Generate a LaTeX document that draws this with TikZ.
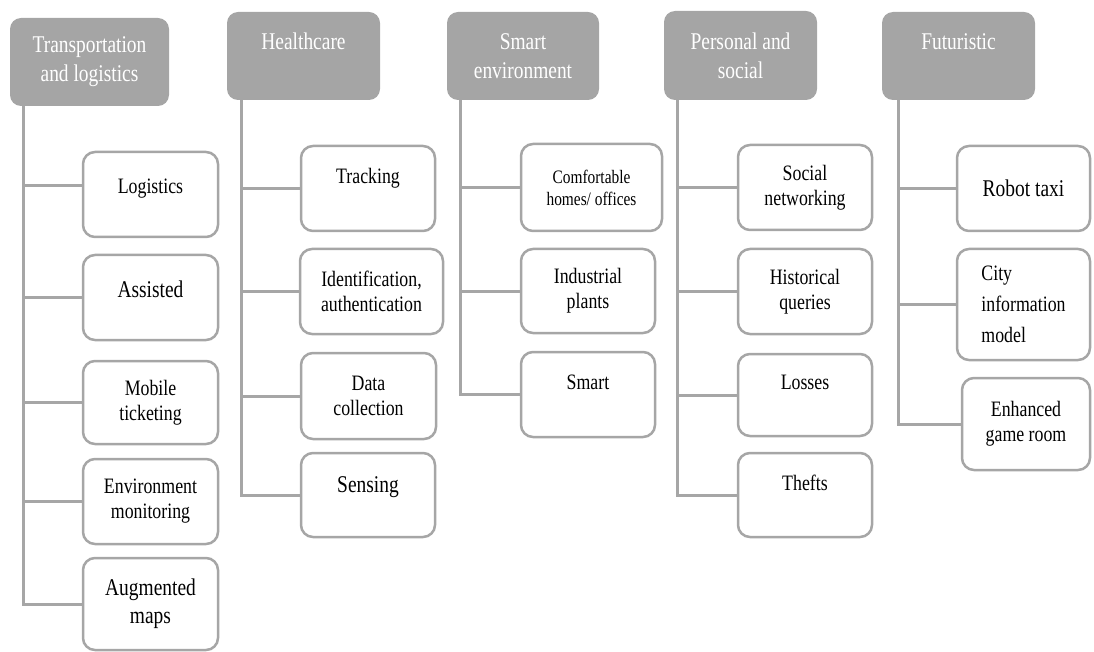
\documentclass[tikz,border=0pt]{standalone}
\usepackage{fontspec}
\setmainfont{Liberation Serif}[FakeStretch=0.81]
\definecolor{hdrfill}{HTML}{A5A5A5}
\definecolor{edgegray}{HTML}{A6A6A6}
\begin{document}
\begin{tikzpicture}[x=1pt,y=-1pt,
  % place a node by its left, top, right and bottom edges
  cell/.style n args={4}{at={({(#1+#3)/2},{(#2+#4)/2})},
    minimum width={(#3-#1)*1pt}, minimum height={(#4-#2)*1pt}},
  hdr/.style={fill=hdrfill, rounded corners=11pt, text=white, align=center,
    inner sep=0pt, font=\fontsize{24}{29}\selectfont},
  item/.style={draw=edgegray, line width=2.5pt, fill=white, rounded corners=12pt,
    align=center, inner sep=0pt, font=\fontsize{22}{25}\selectfont},
  big/.style={font=\fontsize{24}{28}\selectfont},
  small/.style={font=\fontsize{19}{22}\selectfont},
  conn/.style={draw=edgegray, line width=3pt},
]
\useasboundingbox (0,0) rectangle (1094,652);

% category headers
\node[hdr, cell={10}{18}{169}{106}]  (h1) {Transportation\\and logistics};
\node[hdr, cell={227}{12}{380}{100}] (h2) {Healthcare\\\mbox{}};
\node[hdr, cell={447}{12}{599}{100}] (h3) {Smart\\environment};
\node[hdr, cell={664}{11}{817}{100}] (h4) {Personal and\\social};
\node[hdr, cell={882}{12}{1035}{100}] (h5) {Futuristic\\\mbox{}};

% trunk tops below each header
\coordinate (r1) at ([xshift=14pt]h1.south west);
\coordinate (r2) at ([xshift=15pt]h2.south west);
\coordinate (r3) at ([xshift=14pt]h3.south west);
\coordinate (r4) at ([xshift=14pt]h4.south west);
\coordinate (r5) at ([xshift=17pt]h5.south west);

% transportation and logistics
\node[item, cell={83}{152}{218}{237}] (a1) {Logistics\\[-9pt]\mbox{}};
\node[item, big, cell={83}{255}{218}{340}] (a2) {Assisted\\[-12pt]\mbox{}};
\node[item, cell={83}{361}{218}{444}] (a3) {Mobile\\ticketing};
\node[item, cell={83}{459}{218}{544}] (a4) {Environment\\monitoring};
\node[item, big, cell={83}{558}{218}{650}] (a5) {Augmented\\maps};

% healthcare
\node[item, cell={301}{146}{435}{231}] (b1) {Tracking\\\mbox{}};
\node[item, cell={300}{249}{443}{334}] (b2) {Identification,\\authentication};
\node[item, cell={301}{353}{436}{439}] (b3) {Data\\collection};
\node[item, big, cell={301}{453}{435}{537}] (b4) {Sensing\\[-8pt]\mbox{}};

% smart environment
\node[item, small, cell={521}{144}{662}{231}] (c1) {Comfortable\\homes/ offices};
\node[item, cell={521}{249}{655}{333}] (c2) {Industrial\\plants};
\node[item, cell={521}{352}{655}{437}] (c3) {Smart\\\mbox{}};

% personal and social
\node[item, cell={738}{145}{872}{230}] (d1) {Social\\networking};
\node[item, cell={738}{249}{872}{334}] (d2) {Historical\\queries};
\node[item, cell={738}{354}{872}{436}] (d3) {Losses\\\mbox{}};
\node[item, cell={738}{453}{872}{537}] (d4) {Thefts\\\mbox{}};

% futuristic
\node[item, big, cell={957}{146}{1090}{231}] (e1) {Robot taxi};
\node[item, cell={957}{249}{1090}{360}, align=left,
  font=\fontsize{22}{31}\selectfont] (e2) {City\\information\\model};
\node[item, cell={962}{378}{1090}{470}] (e3) {Enhanced\\game room};

% connectors: trunk down from each header, branch into each item
\draw[conn] (r1) |- ([yshift=9pt]a1.west);
\foreach \n in {a2,a3,a4,a5} \draw[conn] (r1) |- (\n.west);
\foreach \n in {b1,b2,b3,b4} \draw[conn] (r2) |- (\n.west);
\foreach \n in {c1,c2,c3} \draw[conn] (r3) |- (\n.west);
\foreach \n in {d1,d2,d3,d4} \draw[conn] (r4) |- (\n.west);
\foreach \n in {e1,e2,e3} \draw[conn] (r5) |- (\n.west);
\end{tikzpicture}
\end{document}
